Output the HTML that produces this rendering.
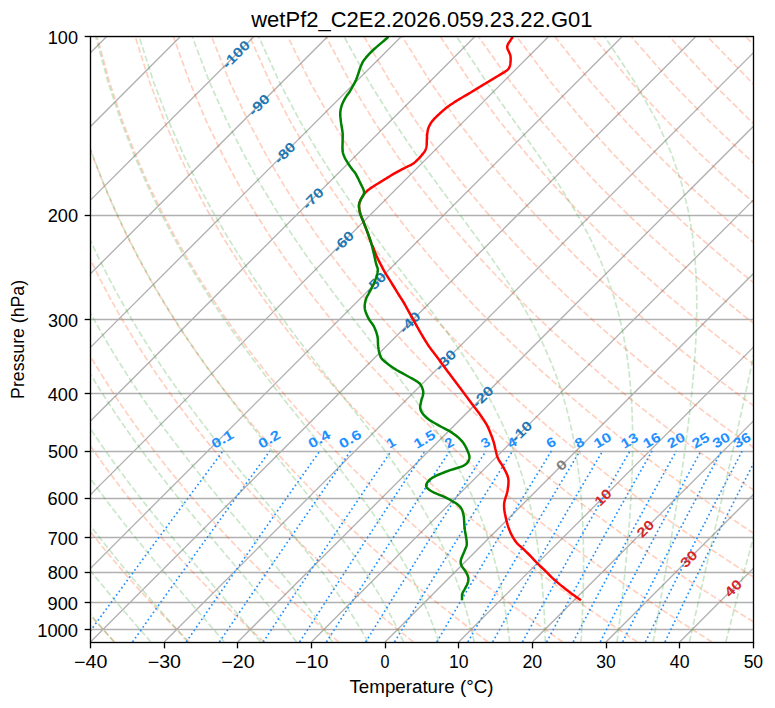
<!DOCTYPE html><html><head><meta charset="utf-8"><style>html,body{margin:0;padding:0;background:#fff;}svg{display:block;}text{font-family:"Liberation Sans",sans-serif;}</style></head><body><svg width="775" height="708" viewBox="0 0 775 708"><rect x="0" y="0" width="775" height="708" fill="#fff"/><defs><clipPath id="ax"><rect x="90.5" y="36.5" width="663" height="606"/></clipPath></defs><g clip-path="url(#ax)"><g stroke="#b0b0b0" stroke-width="1.33"><line x1="90" y1="36.5" x2="754" y2="36.5"/><line x1="90" y1="215.5" x2="754" y2="215.5"/><line x1="90" y1="319.5" x2="754" y2="319.5"/><line x1="90" y1="393.5" x2="754" y2="393.5"/><line x1="90" y1="451.5" x2="754" y2="451.5"/><line x1="90" y1="498.5" x2="754" y2="498.5"/><line x1="90" y1="537.5" x2="754" y2="537.5"/><line x1="90" y1="572.5" x2="754" y2="572.5"/><line x1="90" y1="602.5" x2="754" y2="602.5"/><line x1="90" y1="629.5" x2="754" y2="629.5"/><line x1="-719.59" y1="641.96" x2="-114.19" y2="36.56"/><line x1="-645.94" y1="641.96" x2="-40.54" y2="36.56"/><line x1="-572.3" y1="641.96" x2="33.1" y2="36.56"/><line x1="-498.66" y1="641.96" x2="106.74" y2="36.56"/><line x1="-425.01" y1="641.96" x2="180.39" y2="36.56"/><line x1="-351.37" y1="641.96" x2="254.03" y2="36.56"/><line x1="-277.72" y1="641.96" x2="327.68" y2="36.56"/><line x1="-204.08" y1="641.96" x2="401.32" y2="36.56"/><line x1="-130.43" y1="641.96" x2="474.97" y2="36.56"/><line x1="-56.79" y1="641.96" x2="548.61" y2="36.56"/><line x1="16.86" y1="641.96" x2="622.26" y2="36.56"/><line x1="90.5" y1="641.96" x2="695.9" y2="36.56"/><line x1="164.14" y1="641.96" x2="769.54" y2="36.56"/><line x1="237.79" y1="641.96" x2="843.19" y2="36.56"/><line x1="311.43" y1="641.96" x2="916.83" y2="36.56"/><line x1="385.08" y1="641.96" x2="990.48" y2="36.56"/><line x1="458.72" y1="641.96" x2="1064.12" y2="36.56"/><line x1="532.37" y1="641.96" x2="1137.77" y2="36.56"/><line x1="606.01" y1="641.96" x2="1211.41" y2="36.56"/><line x1="679.66" y1="641.96" x2="1285.06" y2="36.56"/><line x1="753.3" y1="641.96" x2="1358.7" y2="36.56"/></g><g fill="none" stroke="#ff4500" stroke-opacity="0.25" stroke-width="1.67" stroke-dasharray="6.17 2.67"><polyline points="114.6,641.96 110.15,637.16 105.67,632.27 101.16,627.29 96.6,622.21 92.02,617.02 87.39,611.73 82.73,606.33 78.03,600.81 73.29,595.17 68.52,589.4 63.7,583.51 58.84,577.47 53.94,571.29 49,564.96 44.02,558.47 38.99,551.8 33.92,544.97 28.81,537.94 23.65,530.72 18.44,523.29 13.19,515.64 7.89,507.76 2.54,499.63 -2.85,491.23 -8.29,482.54 -13.78,473.56 -19.31,464.25 -24.9,454.59 -30.52,444.55 -36.19,434.11 -41.91,423.23 -47.66,411.86 -53.45,399.97 -59.27,387.51 -65.12,374.41 -70.98,360.6 -76.85,346.02 -82.72,330.56 -88.56,314.11 -94.36,296.54 -100.08,277.68 -105.68,257.33 -111.1,235.23 -116.28,211.05 -121.09,184.37 -125.37,154.6 -128.88,120.93 -131.23,82.19 -131.79,36.56"/><polyline points="189.28,641.96 184.44,637.16 179.55,632.27 174.63,627.29 169.66,622.21 164.66,617.02 159.61,611.73 154.51,606.33 149.38,600.81 144.19,595.17 138.96,589.4 133.69,583.51 128.36,577.47 122.99,571.29 117.56,564.96 112.09,558.47 106.56,551.8 100.98,544.97 95.34,537.94 89.65,530.72 83.91,523.29 78.1,515.64 72.23,507.76 66.31,499.63 60.33,491.23 54.28,482.54 48.17,473.56 42,464.25 35.76,454.59 29.46,444.55 23.1,434.11 16.68,423.23 10.19,411.86 3.64,399.97 -2.96,387.51 -9.62,374.41 -16.33,360.6 -23.08,346.02 -29.86,330.56 -36.66,314.11 -43.46,296.54 -50.23,277.68 -56.95,257.33 -63.55,235.23 -69.98,211.05 -76.14,184.37 -81.88,154.6 -86.99,120.93 -91.11,82.19 -93.65,36.56"/><polyline points="263.96,641.96 258.72,637.16 253.43,632.27 248.1,627.29 242.72,622.21 237.3,617.02 231.82,611.73 226.3,606.33 220.72,600.81 215.09,595.17 209.41,589.4 203.68,583.51 197.88,577.47 192.03,571.29 186.13,564.96 180.16,558.47 174.13,551.8 168.04,544.97 161.88,537.94 155.66,530.72 149.37,523.29 143.01,515.64 136.58,507.76 130.08,499.63 123.5,491.23 116.85,482.54 110.12,473.56 103.31,464.25 96.42,454.59 89.45,444.55 82.4,434.11 75.26,423.23 68.04,411.86 60.73,399.97 53.34,387.51 45.87,374.41 38.32,360.6 30.69,346.02 23,330.56 15.24,314.11 7.44,296.54 -0.39,277.68 -8.21,257.33 -16,235.23 -23.69,211.05 -31.2,184.37 -38.4,154.6 -45.1,120.93 -50.98,82.19 -55.51,36.56"/><polyline points="338.64,641.96 333,637.16 327.31,632.27 321.57,627.29 315.78,622.21 309.94,617.02 304.04,611.73 298.08,606.33 292.06,600.81 285.99,595.17 279.86,589.4 273.66,583.51 267.4,577.47 261.08,571.29 254.69,564.96 248.23,558.47 241.7,551.8 235.1,544.97 228.42,537.94 221.67,530.72 214.83,523.29 207.92,515.64 200.93,507.76 193.84,499.63 186.68,491.23 179.42,482.54 172.07,473.56 164.62,464.25 157.08,454.59 149.44,444.55 141.69,434.11 133.84,423.23 125.89,411.86 117.82,399.97 109.65,387.51 101.36,374.41 92.97,360.6 84.47,346.02 75.86,330.56 67.14,314.11 58.34,296.54 49.46,277.68 40.52,257.33 31.55,235.23 22.6,211.05 13.74,184.37 5.08,154.6 -3.21,120.93 -10.86,82.19 -17.36,36.56"/><polyline points="413.32,641.96 407.28,637.16 401.19,632.27 395.04,627.29 388.84,622.21 382.58,617.02 376.25,611.73 369.86,606.33 363.41,600.81 356.89,595.17 350.31,589.4 343.65,583.51 336.92,577.47 330.13,571.29 323.25,564.96 316.3,558.47 309.27,551.8 302.15,544.97 294.96,537.94 287.67,530.72 280.3,523.29 272.83,515.64 265.27,507.76 257.61,499.63 249.85,491.23 241.99,482.54 234.02,473.56 225.93,464.25 217.74,454.59 209.42,444.55 200.99,434.11 192.43,423.23 183.74,411.86 174.91,399.97 165.96,387.51 156.86,374.41 147.62,360.6 138.24,346.02 128.71,330.56 119.05,314.11 109.24,296.54 99.31,277.68 89.25,257.33 79.1,235.23 68.9,211.05 58.69,184.37 48.56,154.6 38.67,120.93 29.27,82.19 20.78,36.56"/><polyline points="487.99,641.96 481.56,637.16 475.07,632.27 468.52,627.29 461.9,622.21 455.21,617.02 448.46,611.73 441.64,606.33 434.75,600.81 427.79,595.17 420.75,589.4 413.64,583.51 406.45,577.47 399.17,571.29 391.81,564.96 384.37,558.47 376.84,551.8 369.21,544.97 361.49,537.94 353.68,530.72 345.76,523.29 337.74,515.64 329.62,507.76 321.38,499.63 313.03,491.23 304.56,482.54 295.97,473.56 287.25,464.25 278.4,454.59 269.41,444.55 260.28,434.11 251.01,423.23 241.59,411.86 232,399.97 222.26,387.51 212.35,374.41 202.27,360.6 192.01,346.02 181.57,330.56 170.95,314.11 160.14,296.54 149.15,277.68 137.99,257.33 126.66,235.23 115.19,211.05 103.63,184.37 92.04,154.6 80.56,120.93 69.39,82.19 58.93,36.56"/><polyline points="562.67,641.96 555.84,637.16 548.95,632.27 541.99,627.29 534.96,622.21 527.85,617.02 520.68,611.73 513.43,606.33 506.1,600.81 498.69,595.17 491.2,589.4 483.63,583.51 475.97,577.47 468.22,571.29 460.37,564.96 452.44,558.47 444.4,551.8 436.27,544.97 428.03,537.94 419.68,530.72 411.23,523.29 402.65,515.64 393.96,507.76 385.15,499.63 376.2,491.23 367.13,482.54 357.91,473.56 348.56,464.25 339.05,454.59 329.4,444.55 319.58,434.11 309.59,423.23 299.43,411.86 289.1,399.97 278.57,387.51 267.85,374.41 256.92,360.6 245.79,346.02 234.43,330.56 222.85,314.11 211.04,296.54 199,277.68 186.72,257.33 174.21,235.23 161.48,211.05 148.57,184.37 135.53,154.6 122.45,120.93 109.52,82.19 97.07,36.56"/><polyline points="637.35,641.96 630.13,637.16 622.83,632.27 615.46,627.29 608.02,622.21 600.49,617.02 592.89,611.73 585.21,606.33 577.44,600.81 569.59,595.17 561.65,589.4 553.61,583.51 545.49,577.47 537.26,571.29 528.94,564.96 520.51,558.47 511.97,551.8 503.33,544.97 494.57,537.94 485.69,530.72 476.69,523.29 467.56,515.64 458.31,507.76 448.91,499.63 439.38,491.23 429.7,482.54 419.86,473.56 409.87,464.25 399.71,454.59 389.38,444.55 378.87,434.11 368.18,423.23 357.28,411.86 346.19,399.97 334.88,387.51 323.34,374.41 311.57,360.6 299.56,346.02 287.29,330.56 274.75,314.11 261.94,296.54 248.84,277.68 235.45,257.33 221.76,235.23 207.78,211.05 193.51,184.37 179.01,154.6 164.34,120.93 149.64,82.19 135.21,36.56"/><polyline points="712.03,641.96 704.41,637.16 696.71,632.27 688.93,627.29 681.08,622.21 673.13,617.02 665.11,611.73 656.99,606.33 648.79,600.81 640.49,595.17 632.09,589.4 623.6,583.51 615.01,577.47 606.31,571.29 597.5,564.96 588.58,558.47 579.54,551.8 570.38,544.97 561.1,537.94 551.69,530.72 542.15,523.29 532.47,515.64 522.65,507.76 512.68,499.63 502.55,491.23 492.27,482.54 481.81,473.56 471.18,464.25 460.37,454.59 449.37,444.55 438.17,434.11 426.76,423.23 415.13,411.86 403.28,399.97 391.18,387.51 378.84,374.41 366.22,360.6 353.33,346.02 340.15,330.56 326.66,314.11 312.84,296.54 298.69,277.68 284.18,257.33 269.31,235.23 254.07,211.05 238.46,184.37 222.49,154.6 206.22,120.93 189.77,82.19 173.36,36.56"/><polyline points="776,635.54 770.59,632.27 762.41,627.29 754.13,622.21 745.77,617.02 737.32,611.73 728.78,606.33 720.13,600.81 711.39,595.17 702.54,589.4 693.59,583.51 684.53,577.47 675.35,571.29 666.06,564.96 656.65,558.47 647.11,551.8 637.44,544.97 627.64,537.94 617.7,530.72 607.62,523.29 597.38,515.64 587,507.76 576.45,499.63 565.73,491.23 554.84,482.54 543.76,473.56 532.5,464.25 521.03,454.59 509.36,444.55 497.47,434.11 485.34,423.23 472.98,411.86 460.37,399.97 447.49,387.51 434.33,374.41 420.87,360.6 407.11,346.02 393.01,330.56 378.56,314.11 363.74,296.54 348.54,277.68 332.92,257.33 316.87,235.23 300.36,211.05 283.4,184.37 265.97,154.6 248.11,120.93 229.89,82.19 211.5,36.56"/><polyline points="776,591.27 772.99,589.4 763.58,583.51 754.05,577.47 744.4,571.29 734.62,564.96 724.72,558.47 714.68,551.8 704.5,544.97 694.18,537.94 683.71,530.72 673.08,523.29 662.29,515.64 651.34,507.76 640.21,499.63 628.9,491.23 617.41,482.54 605.71,473.56 593.81,464.25 581.69,454.59 569.34,444.55 556.76,434.11 543.93,423.23 530.83,411.86 517.46,399.97 503.8,387.51 489.82,374.41 475.52,360.6 460.88,346.02 445.87,330.56 430.46,314.11 414.64,296.54 398.38,277.68 381.65,257.33 364.42,235.23 346.66,211.05 328.34,184.37 309.46,154.6 290,120.93 270.02,82.19 249.65,36.56"/><polyline points="776,547.81 771.56,544.97 760.71,537.94 749.71,530.72 738.55,523.29 727.21,515.64 715.69,507.76 703.98,499.63 692.08,491.23 679.98,482.54 667.66,473.56 655.12,464.25 642.35,454.59 629.33,444.55 616.06,434.11 602.51,423.23 588.68,411.86 574.55,399.97 560.1,387.51 545.32,374.41 530.17,360.6 514.65,346.02 498.72,330.56 482.36,314.11 465.54,296.54 448.23,277.68 430.38,257.33 411.97,235.23 392.95,211.05 373.29,184.37 352.94,154.6 331.89,120.93 310.14,82.19 287.79,36.56"/><polyline points="776,505.09 767.75,499.63 755.26,491.23 742.55,482.54 729.61,473.56 716.43,464.25 703.01,454.59 689.32,444.55 675.35,434.11 661.1,423.23 646.53,411.86 631.64,399.97 616.41,387.51 600.81,374.41 584.83,360.6 568.42,346.02 551.58,330.56 534.27,314.11 516.44,296.54 498.07,277.68 479.11,257.33 459.52,235.23 439.24,211.05 418.23,184.37 396.42,154.6 373.78,120.93 350.27,82.19 325.93,36.56"/><polyline points="776,463.05 763.66,454.59 749.3,444.55 734.65,434.11 719.68,423.23 704.38,411.86 688.73,399.97 672.72,387.51 656.31,374.41 639.48,360.6 622.2,346.02 604.44,330.56 586.17,314.11 567.34,296.54 547.92,277.68 527.85,257.33 507.07,235.23 485.54,211.05 463.17,184.37 439.9,154.6 415.66,120.93 390.39,82.19 364.08,36.56"/><polyline points="776,421.62 762.23,411.86 745.82,399.97 729.02,387.51 711.8,374.41 694.13,360.6 675.97,346.02 657.3,330.56 638.07,314.11 618.24,296.54 597.76,277.68 576.58,257.33 554.63,235.23 531.83,211.05 508.11,184.37 483.39,154.6 457.55,120.93 430.52,82.19 402.22,36.56"/><polyline points="776,380.73 767.29,374.41 748.78,360.6 729.74,346.02 710.16,330.56 689.97,314.11 669.14,296.54 647.61,277.68 625.31,257.33 602.18,235.23 578.13,211.05 553.06,184.37 526.87,154.6 499.44,120.93 470.64,82.19 440.36,36.56"/><polyline points="776,340.35 763.02,330.56 741.88,314.11 720.04,296.54 697.46,277.68 674.05,257.33 649.73,235.23 624.42,211.05 598,184.37 570.35,154.6 541.33,120.93 510.77,82.19 478.51,36.56"/><polyline points="776,300.43 770.94,296.54 747.3,277.68 722.78,257.33 697.28,235.23 670.71,211.05 642.94,184.37 613.83,154.6 583.21,120.93 550.89,82.19 516.65,36.56"/><polyline points="776,260.89 771.51,257.33 744.84,235.23 717.01,211.05 687.89,184.37 657.32,154.6 625.1,120.93 591.02,82.19 554.8,36.56"/><polyline points="776,221.61 763.3,211.05 732.83,184.37 700.8,154.6 666.99,120.93 631.14,82.19 592.94,36.56"/><polyline points="776,182.8 744.28,154.6 708.88,120.93 671.27,82.19 631.08,36.56"/><polyline points="776,143.9 750.76,120.93 711.39,82.19 669.23,36.56"/><polyline points="776,105.25 751.52,82.19 707.37,36.56"/><polyline points="776,66.72 745.52,36.56"/><polyline points=""/><polyline points=""/><polyline points=""/><polyline points=""/><polyline points=""/><polyline points=""/></g><g fill="none" stroke="#2ca02c" stroke-opacity="0.25" stroke-width="1.67" stroke-dasharray="6.17 2.67"><polyline points="113.94,641.96 109.77,637.16 105.54,632.27 101.25,627.29 96.91,622.21 92.51,617.02 88.06,611.73 83.56,606.33 79,600.81 74.39,595.17 69.73,589.4 65.01,583.51 60.24,577.47 55.41,571.29 50.54,564.96 45.61,558.47 40.63,551.8 35.59,544.97 30.51,537.94 25.37,530.72 20.18,523.29 14.94,515.64 9.65,507.76 4.31,499.63 -1.09,491.23 -6.53,482.54 -12.03,473.56 -17.57,464.25 -23.17,454.59 -28.81,444.55 -34.5,434.11 -40.23,423.23 -46,411.86 -51.81,399.97 -57.65,387.51 -63.52,374.41 -69.41,360.6 -75.3,346.02 -81.2,330.56 -87.07,314.11 -92.89,296.54 -98.64,277.68 -104.27,257.33 -109.73,235.23 -114.94,211.05 -119.79,184.37 -124.11,154.6 -127.67,120.93 -130.08,82.19 -130.69,36.56"/><polyline points="150.9,641.96 146.68,637.16 142.4,632.27 138.04,627.29 133.62,622.21 129.14,617.02 124.58,611.73 119.96,606.33 115.28,600.81 110.53,595.17 105.71,589.4 100.83,583.51 95.88,577.47 90.88,571.29 85.8,564.96 80.67,558.47 75.47,551.8 70.21,544.97 64.89,537.94 59.51,530.72 54.07,523.29 48.56,515.64 42.99,507.76 37.37,499.63 31.68,491.23 25.93,482.54 20.12,473.56 14.25,464.25 8.32,454.59 2.34,444.55 -3.7,434.11 -9.8,423.23 -15.95,411.86 -22.16,399.97 -28.4,387.51 -34.69,374.41 -41.02,360.6 -47.37,346.02 -53.74,330.56 -60.11,314.11 -66.45,296.54 -72.75,277.68 -78.96,257.33 -85.03,235.23 -90.9,211.05 -96.44,184.37 -101.53,154.6 -105.91,120.93 -109.23,82.19 -110.88,36.56"/><polyline points="187.68,641.96 183.49,637.16 179.22,632.27 174.86,627.29 170.42,622.21 165.9,617.02 161.3,611.73 156.62,606.33 151.85,600.81 147.01,595.17 142.08,589.4 137.08,583.51 131.99,577.47 126.83,571.29 121.6,564.96 116.28,558.47 110.89,551.8 105.43,544.97 99.89,537.94 94.27,530.72 88.58,523.29 82.82,515.64 76.99,507.76 71.08,499.63 65.11,491.23 59.06,482.54 52.93,473.56 46.74,464.25 40.48,454.59 34.15,444.55 27.74,434.11 21.27,423.23 14.74,411.86 8.13,399.97 1.47,387.51 -5.25,374.41 -12.02,360.6 -18.84,346.02 -25.69,330.56 -32.56,314.11 -39.44,296.54 -46.3,277.68 -53.1,257.33 -59.8,235.23 -66.33,211.05 -72.59,184.37 -78.45,154.6 -83.68,120.93 -87.94,82.19 -90.64,36.56"/><polyline points="224.25,641.96 220.17,637.16 215.99,632.27 211.71,627.29 207.34,622.21 202.86,617.02 198.28,611.73 193.61,606.33 188.83,600.81 183.96,595.17 178.98,589.4 173.91,583.51 168.75,577.47 163.48,571.29 158.13,564.96 152.67,558.47 147.13,551.8 141.49,544.97 135.76,537.94 129.94,530.72 124.03,523.29 118.03,515.64 111.94,507.76 105.77,499.63 99.51,491.23 93.16,482.54 86.73,473.56 80.21,464.25 73.61,454.59 66.93,444.55 60.16,434.11 53.31,423.23 46.38,411.86 39.37,399.97 32.28,387.51 25.12,374.41 17.89,360.6 10.59,346.02 3.24,330.56 -4.15,314.11 -11.58,296.54 -19.01,277.68 -26.42,257.33 -33.77,235.23 -40.99,211.05 -47.99,184.37 -54.65,154.6 -60.75,120.93 -65.98,82.19 -69.76,36.56"/><polyline points="260.58,641.96 256.7,637.16 252.71,632.27 248.61,627.29 244.39,622.21 240.05,617.02 235.6,611.73 231.02,606.33 226.33,600.81 221.51,595.17 216.58,589.4 211.53,583.51 206.35,577.47 201.06,571.29 195.65,564.96 190.12,558.47 184.48,551.8 178.72,544.97 172.85,537.94 166.87,530.72 160.77,523.29 154.56,515.64 148.25,507.76 141.83,499.63 135.3,491.23 128.67,482.54 121.94,473.56 115.1,464.25 108.17,454.59 101.13,444.55 93.99,434.11 86.75,423.23 79.41,411.86 71.98,399.97 64.46,387.51 56.84,374.41 49.13,360.6 41.33,346.02 33.46,330.56 25.52,314.11 17.52,296.54 9.49,277.68 1.44,257.33 -6.58,235.23 -14.52,211.05 -22.3,184.37 -29.79,154.6 -36.81,120.93 -43.04,82.19 -47.95,36.56"/><polyline points="296.64,641.96 293.06,637.16 289.37,632.27 285.55,627.29 281.6,622.21 277.51,617.02 273.3,611.73 268.94,606.33 264.44,600.81 259.81,595.17 255.03,589.4 250.1,583.51 245.03,577.47 239.82,571.29 234.46,564.96 228.95,558.47 223.3,551.8 217.51,544.97 211.57,537.94 205.49,530.72 199.27,523.29 192.92,515.64 186.42,507.76 179.8,499.63 173.04,491.23 166.15,482.54 159.13,473.56 151.99,464.25 144.72,454.59 137.33,444.55 129.82,434.11 122.18,423.23 114.43,411.86 106.56,399.97 98.58,387.51 90.48,374.41 82.26,360.6 73.95,346.02 65.52,330.56 57,314.11 48.4,296.54 39.73,277.68 31,257.33 22.27,235.23 13.56,211.05 4.97,184.37 -3.41,154.6 -11.39,120.93 -18.69,82.19 -24.81,36.56"/><polyline points="332.44,641.96 329.26,637.16 325.96,632.27 322.53,627.29 318.97,622.21 315.26,617.02 311.4,611.73 307.4,606.33 303.24,600.81 298.92,595.17 294.43,589.4 289.78,583.51 284.96,577.47 279.97,571.29 274.8,564.96 269.46,558.47 263.94,551.8 258.23,544.97 252.35,537.94 246.3,530.72 240.06,523.29 233.65,515.64 227.07,507.76 220.31,499.63 213.38,491.23 206.29,482.54 199.04,473.56 191.62,464.25 184.05,454.59 176.32,444.55 168.44,434.11 160.41,423.23 152.23,411.86 143.91,399.97 135.44,387.51 126.83,374.41 118.09,360.6 109.21,346.02 100.19,330.56 91.05,314.11 81.8,296.54 72.43,277.68 62.98,257.33 53.47,235.23 43.94,211.05 34.46,184.37 25.13,154.6 16.1,120.93 7.64,82.19 0.22,36.56"/><polyline points="368.02,641.96 365.32,637.16 362.51,632.27 359.56,627.29 356.48,622.21 353.26,617.02 349.89,611.73 346.37,606.33 342.69,600.81 338.84,595.17 334.81,589.4 330.6,583.51 326.21,577.47 321.62,571.29 316.83,564.96 311.83,558.47 306.63,551.8 301.21,544.97 295.57,537.94 289.71,530.72 283.63,523.29 277.33,515.64 270.8,507.76 264.06,499.63 257.09,491.23 249.91,482.54 242.51,473.56 234.9,464.25 227.09,454.59 219.07,444.55 210.86,434.11 202.45,423.23 193.85,411.86 185.07,399.97 176.11,387.51 166.97,374.41 157.65,360.6 148.16,346.02 138.51,330.56 128.69,314.11 118.72,296.54 108.59,277.68 98.34,257.33 87.98,235.23 77.53,211.05 67.07,184.37 56.68,154.6 46.49,120.93 36.76,82.19 27.9,36.56"/><polyline points="403.45,641.96 401.28,637.16 399.01,632.27 396.62,627.29 394.11,622.21 391.46,617.02 388.68,611.73 385.76,606.33 382.68,600.81 379.43,595.17 376.02,589.4 372.42,583.51 368.63,577.47 364.64,571.29 360.44,564.96 356.02,558.47 351.37,551.8 346.47,544.97 341.33,537.94 335.93,530.72 330.26,523.29 324.33,515.64 318.11,507.76 311.62,499.63 304.84,491.23 297.78,482.54 290.43,473.56 282.8,464.25 274.9,454.59 266.72,444.55 258.27,434.11 249.57,423.23 240.61,411.86 231.4,399.97 221.95,387.51 212.26,374.41 202.35,360.6 192.21,346.02 181.85,330.56 171.29,314.11 160.51,296.54 149.54,277.68 138.38,257.33 127.05,235.23 115.58,211.05 104.01,184.37 92.41,154.6 80.92,120.93 69.73,82.19 59.25,36.56"/><polyline points="438.82,641.96 437.2,637.16 435.49,632.27 433.69,627.29 431.79,622.21 429.77,617.02 427.64,611.73 425.38,606.33 422.99,600.81 420.46,595.17 417.77,589.4 414.92,583.51 411.89,577.47 408.68,571.29 405.26,564.96 401.63,558.47 397.77,551.8 393.67,544.97 389.31,537.94 384.67,530.72 379.75,523.29 374.52,515.64 368.97,507.76 363.1,499.63 356.88,491.23 350.3,482.54 343.36,473.56 336.06,464.25 328.38,454.59 320.33,444.55 311.9,434.11 303.11,423.23 293.96,411.86 284.46,399.97 274.62,387.51 264.44,374.41 253.95,360.6 243.15,346.02 232.06,330.56 220.67,314.11 209.01,296.54 197.07,277.68 184.88,257.33 172.44,235.23 159.77,211.05 146.92,184.37 133.93,154.6 120.91,120.93 108.04,82.19 95.67,36.56"/><polyline points="474.21,641.96 473.13,637.16 471.98,632.27 470.76,627.29 469.47,622.21 468.09,617.02 466.62,611.73 465.05,606.33 463.38,600.81 461.6,595.17 459.69,589.4 457.65,583.51 455.47,577.47 453.13,571.29 450.63,564.96 447.94,558.47 445.05,551.8 441.95,544.97 438.61,537.94 435.03,530.72 431.16,523.29 427.01,515.64 422.53,507.76 417.71,499.63 412.53,491.23 406.95,482.54 400.95,473.56 394.52,464.25 387.62,454.59 380.25,444.55 372.38,434.11 364,423.23 355.11,411.86 345.72,399.97 335.81,387.51 325.42,374.41 314.54,360.6 303.2,346.02 291.42,330.56 279.21,314.11 266.59,296.54 253.59,277.68 240.22,257.33 226.49,235.23 212.42,211.05 198.05,184.37 183.41,154.6 168.58,120.93 153.7,82.19 139.08,36.56"/><polyline points="509.69,641.96 509.11,637.16 508.49,632.27 507.82,627.29 507.1,622.21 506.32,617.02 505.48,611.73 504.58,606.33 503.6,600.81 502.54,595.17 501.4,589.4 500.17,583.51 498.83,577.47 497.38,571.29 495.81,564.96 494.1,558.47 492.25,551.8 490.23,544.97 488.04,537.94 485.64,530.72 483.03,523.29 480.18,515.64 477.06,507.76 473.65,499.63 469.92,491.23 465.82,482.54 461.33,473.56 456.41,464.25 451.01,454.59 445.09,444.55 438.61,434.11 431.52,423.23 423.78,411.86 415.36,399.97 406.23,387.51 396.37,374.41 385.77,360.6 374.44,346.02 362.38,330.56 349.64,314.11 336.23,296.54 322.2,277.68 307.57,257.33 292.4,235.23 276.7,211.05 260.51,184.37 243.87,154.6 226.84,120.93 209.52,82.19 192.14,36.56"/><polyline points="545.3,641.96 545.18,637.16 545.03,632.27 544.85,627.29 544.65,622.21 544.41,617.02 544.14,611.73 543.83,606.33 543.47,600.81 543.08,595.17 542.63,589.4 542.13,583.51 541.56,577.47 540.93,571.29 540.22,564.96 539.43,558.47 538.55,551.8 537.57,544.97 536.47,537.94 535.24,530.72 533.87,523.29 532.34,515.64 530.63,507.76 528.72,499.63 526.57,491.23 524.17,482.54 521.48,473.56 518.45,464.25 515.05,454.59 511.22,444.55 506.9,434.11 502.02,423.23 496.52,411.86 490.32,399.97 483.33,387.51 475.46,374.41 466.63,360.6 456.76,346.02 445.8,330.56 433.7,314.11 420.46,296.54 406.09,277.68 390.64,257.33 374.19,235.23 356.81,211.05 338.58,184.37 319.56,154.6 299.82,120.93 279.46,82.19 258.64,36.56"/><polyline points="581.09,641.96 581.35,637.16 581.61,632.27 581.85,627.29 582.09,622.21 582.32,617.02 582.53,611.73 582.73,606.33 582.92,600.81 583.08,595.17 583.23,589.4 583.35,583.51 583.45,577.47 583.51,571.29 583.55,564.96 583.54,558.47 583.49,551.8 583.39,544.97 583.24,537.94 583.02,530.72 582.73,523.29 582.36,515.64 581.9,507.76 581.32,499.63 580.63,491.23 579.79,482.54 578.78,473.56 577.59,464.25 576.17,454.59 574.49,444.55 572.5,434.11 570.16,423.23 567.4,411.86 564.14,399.97 560.29,387.51 555.74,374.41 550.36,360.6 544,346.02 536.47,330.56 527.6,314.11 517.18,296.54 505.04,277.68 491.02,257.33 475.06,235.23 457.18,211.05 437.48,184.37 416.14,154.6 393.34,120.93 369.26,82.19 344.08,36.56"/><polyline points="617.05,641.96 617.63,637.16 618.23,632.27 618.83,627.29 619.43,622.21 620.04,617.02 620.66,611.73 621.28,606.33 621.9,600.81 622.53,595.17 623.16,589.4 623.79,583.51 624.42,577.47 625.05,571.29 625.68,564.96 626.31,558.47 626.93,551.8 627.54,544.97 628.15,537.94 628.74,530.72 629.31,523.29 629.87,515.64 630.39,507.76 630.89,499.63 631.34,491.23 631.75,482.54 632.1,473.56 632.38,464.25 632.58,454.59 632.67,444.55 632.64,434.11 632.45,423.23 632.08,411.86 631.47,399.97 630.58,387.51 629.34,374.41 627.66,360.6 625.43,346.02 622.5,330.56 618.7,314.11 613.76,296.54 607.39,277.68 599.18,257.33 588.66,235.23 575.29,211.05 558.57,184.37 538.18,154.6 514.12,120.93 486.72,82.19 456.51,36.56"/><polyline points="653.17,641.96 654.02,637.16 654.89,632.27 655.77,627.29 656.67,622.21 657.59,617.02 658.52,611.73 659.47,606.33 660.45,600.81 661.44,595.17 662.45,589.4 663.48,583.51 664.53,577.47 665.6,571.29 666.7,564.96 667.81,558.47 668.95,551.8 670.11,544.97 671.29,537.94 672.5,530.72 673.72,523.29 674.97,515.64 676.24,507.76 677.54,499.63 678.85,491.23 680.18,482.54 681.53,473.56 682.89,464.25 684.26,454.59 685.64,444.55 687.02,434.11 688.39,423.23 689.74,411.86 691.06,399.97 692.33,387.51 693.52,374.41 694.61,360.6 695.55,346.02 696.28,330.56 696.72,314.11 696.76,296.54 696.23,277.68 694.91,257.33 692.45,235.23 688.36,211.05 681.87,184.37 671.86,154.6 656.78,120.93 634.83,82.19 604.72,36.56"/><polyline points="689.44,641.96 690.5,637.16 691.58,632.27 692.69,627.29 693.82,622.21 694.97,617.02 696.15,611.73 697.36,606.33 698.61,600.81 699.88,595.17 701.18,589.4 702.51,583.51 703.88,577.47 705.29,571.29 706.73,564.96 708.21,558.47 709.74,551.8 711.3,544.97 712.91,537.94 714.56,530.72 716.27,523.29 718.02,515.64 719.83,507.76 721.7,499.63 723.62,491.23 725.61,482.54 727.66,473.56 729.78,464.25 731.96,454.59 734.23,444.55 736.57,434.11 739,423.23 741.51,411.86 744.1,399.97 746.79,387.51 749.57,374.41 752.45,360.6 755.42,346.02 758.47,330.56 761.6,314.11 764.8,296.54 768.02,277.68 771.22,257.33 774.32,235.23 777.17,211.05 779.54,184.37 780.99,154.6 780.73,120.93 777.26,82.19 767.55,36.56"/><polyline points="725.85,641.96 727.06,637.16 728.31,632.27 729.58,627.29 730.88,622.21 732.22,617.02 733.59,611.73 734.99,606.33 736.43,600.81 737.91,595.17 739.43,589.4 740.99,583.51 742.59,577.47 744.24,571.29 745.94,564.96 747.69,558.47 749.49,551.8 751.35,544.97 753.27,537.94 755.24,530.72 757.29,523.29 759.4,515.64 761.59,507.76 763.86,499.63 766.21,491.23 768.65,482.54 771.18,473.56 773.81,464.25 776.56,454.59 779.42,444.55 782.4,434.11 785.52,423.23 788.79,411.86 792.21,399.97 795.81,387.51 799.59,374.41 803.58,360.6 807.79,346.02 812.25,330.56 816.98,314.11 822.01,296.54 827.37,277.68 833.1,257.33 839.24,235.23 845.83,211.05 852.9,184.37 860.48,154.6 868.54,120.93 876.92,82.19 885.14,36.56"/><polyline points="762.37,641.96 763.7,637.16 765.06,632.27 766.45,627.29 767.88,622.21 769.35,617.02 770.85,611.73 772.4,606.33 773.98,600.81 775.61,595.17 777.28,589.4 779,583.51 780.77,577.47 782.6,571.29 784.48,564.96 786.41,558.47 788.41,551.8 790.47,544.97 792.61,537.94 794.81,530.72 797.09,523.29 799.45,515.64 801.9,507.76 804.44,499.63 807.08,491.23 809.83,482.54 812.68,473.56 815.66,464.25 818.78,454.59 822.03,444.55 825.43,434.11 829,423.23 832.76,411.86 836.71,399.97 840.88,387.51 845.29,374.41 849.96,360.6 854.94,346.02 860.24,330.56 865.91,314.11 872.02,296.54 878.6,277.68 885.74,257.33 893.54,235.23 902.1,211.05 911.57,184.37 922.15,154.6 934.1,120.93 947.75,82.19 963.6,36.56"/></g><g fill="none" stroke="#1e90ff" stroke-width="1.67" stroke-dasharray="1.67 2.75"><polyline points="82.32,641.96 84.33,639.19 86.37,636.4 88.43,633.57 90.51,630.71 92.62,627.82 94.75,624.89 96.91,621.94 99.09,618.94 101.3,615.92 103.54,612.85 105.8,609.75 108.1,606.62 110.42,603.44 112.78,600.22 115.16,596.96 117.58,593.67 120.02,590.32 122.5,586.94 125.02,583.51 127.57,580.03 130.16,576.51 132.78,572.93 135.44,569.31 138.15,565.63 140.89,561.9 143.67,558.12 146.5,554.28 149.37,550.38 152.29,546.42 155.25,542.4 158.26,538.32 161.32,534.17 164.44,529.95 167.6,525.66 170.83,521.3 174.11,516.87 177.45,512.35 180.85,507.76 184.31,503.08 187.84,498.32 191.44,493.46 195.12,488.52 198.86,483.47 202.68,478.33 206.59,473.08 210.57,467.72 214.65,462.25 218.82,456.65 223.08,450.94"/><polyline points="132.54,641.96 134.5,639.19 136.48,636.4 138.49,633.57 140.52,630.71 142.58,627.82 144.65,624.89 146.76,621.94 148.89,618.94 151.04,615.92 153.22,612.85 155.43,609.75 157.67,606.62 159.93,603.44 162.23,600.22 164.55,596.96 166.91,593.67 169.3,590.32 171.72,586.94 174.17,583.51 176.66,580.03 179.18,576.51 181.74,572.93 184.34,569.31 186.97,565.63 189.65,561.9 192.36,558.12 195.12,554.28 197.92,550.38 200.77,546.42 203.66,542.4 206.6,538.32 209.59,534.17 212.63,529.95 215.72,525.66 218.87,521.3 222.07,516.87 225.34,512.35 228.66,507.76 232.04,503.08 235.49,498.32 239.01,493.46 242.59,488.52 246.25,483.47 249.99,478.33 253.8,473.08 257.7,467.72 261.68,462.25 265.75,456.65 269.91,450.94"/><polyline points="186.25,641.96 188.15,639.19 190.08,636.4 192.03,633.57 194,630.71 196,627.82 198.02,624.89 200.06,621.94 202.13,618.94 204.22,615.92 206.34,612.85 208.48,609.75 210.66,606.62 212.86,603.44 215.09,600.22 217.35,596.96 219.64,593.67 221.96,590.32 224.31,586.94 226.69,583.51 229.11,580.03 231.57,576.51 234.06,572.93 236.58,569.31 239.14,565.63 241.75,561.9 244.39,558.12 247.07,554.28 249.79,550.38 252.56,546.42 255.38,542.4 258.24,538.32 261.15,534.17 264.1,529.95 267.11,525.66 270.18,521.3 273.29,516.87 276.47,512.35 279.7,507.76 283,503.08 286.36,498.32 289.78,493.46 293.27,488.52 296.84,483.47 300.47,478.33 304.19,473.08 307.98,467.72 311.86,462.25 315.83,456.65 319.89,450.94"/><polyline points="219.43,641.96 221.3,639.19 223.19,636.4 225.1,633.57 227.04,630.71 228.99,627.82 230.97,624.89 232.98,621.94 235.01,618.94 237.06,615.92 239.14,612.85 241.25,609.75 243.38,606.62 245.54,603.44 247.73,600.22 249.95,596.96 252.19,593.67 254.47,590.32 256.78,586.94 259.12,583.51 261.5,580.03 263.91,576.51 266.35,572.93 268.83,569.31 271.35,565.63 273.9,561.9 276.5,558.12 279.13,554.28 281.81,550.38 284.53,546.42 287.29,542.4 290.1,538.32 292.96,534.17 295.86,529.95 298.82,525.66 301.83,521.3 304.89,516.87 308.01,512.35 311.19,507.76 314.43,503.08 317.73,498.32 321.1,493.46 324.53,488.52 328.03,483.47 331.61,478.33 335.26,473.08 338.99,467.72 342.81,462.25 346.71,456.65 350.7,450.94"/><polyline points="263.23,641.96 265.05,639.19 266.89,636.4 268.75,633.57 270.64,630.71 272.54,627.82 274.47,624.89 276.43,621.94 278.4,618.94 280.4,615.92 282.43,612.85 284.48,609.75 286.56,606.62 288.66,603.44 290.8,600.22 292.96,596.96 295.15,593.67 297.37,590.32 299.62,586.94 301.9,583.51 304.22,580.03 306.57,576.51 308.95,572.93 311.37,569.31 313.82,565.63 316.32,561.9 318.85,558.12 321.42,554.28 324.03,550.38 326.68,546.42 329.38,542.4 332.12,538.32 334.91,534.17 337.75,529.95 340.63,525.66 343.57,521.3 346.56,516.87 349.61,512.35 352.71,507.76 355.87,503.08 359.09,498.32 362.38,493.46 365.73,488.52 369.16,483.47 372.65,478.33 376.22,473.08 379.86,467.72 383.59,462.25 387.4,456.65 391.31,450.94"/><polyline points="299.68,641.96 301.46,639.19 303.26,636.4 305.08,633.57 306.92,630.71 308.78,627.82 310.67,624.89 312.58,621.94 314.51,618.94 316.47,615.92 318.45,612.85 320.45,609.75 322.49,606.62 324.54,603.44 326.63,600.22 328.74,596.96 330.89,593.67 333.06,590.32 335.26,586.94 337.49,583.51 339.76,580.03 342.05,576.51 344.39,572.93 346.75,569.31 349.15,565.63 351.59,561.9 354.07,558.12 356.58,554.28 359.14,550.38 361.74,546.42 364.38,542.4 367.06,538.32 369.79,534.17 372.57,529.95 375.39,525.66 378.27,521.3 381.2,516.87 384.18,512.35 387.22,507.76 390.31,503.08 393.47,498.32 396.69,493.46 399.98,488.52 403.33,483.47 406.75,478.33 410.25,473.08 413.82,467.72 417.48,462.25 421.21,456.65 425.04,450.94"/><polyline points="326.51,641.96 328.25,639.19 330.02,636.4 331.81,633.57 333.62,630.71 335.45,627.82 337.3,624.89 339.18,621.94 341.07,618.94 343,615.92 344.94,612.85 346.91,609.75 348.91,606.62 350.94,603.44 352.99,600.22 355.06,596.96 357.17,593.67 359.3,590.32 361.47,586.94 363.66,583.51 365.89,580.03 368.15,576.51 370.44,572.93 372.77,569.31 375.13,565.63 377.53,561.9 379.97,558.12 382.44,554.28 384.95,550.38 387.51,546.42 390.1,542.4 392.75,538.32 395.43,534.17 398.16,529.95 400.94,525.66 403.77,521.3 406.66,516.87 409.59,512.35 412.58,507.76 415.63,503.08 418.74,498.32 421.91,493.46 425.14,488.52 428.44,483.47 431.81,478.33 435.26,473.08 438.78,467.72 442.37,462.25 446.06,456.65 449.82,450.94"/><polyline points="365.72,641.96 367.43,639.19 369.15,636.4 370.89,633.57 372.65,630.71 374.43,627.82 376.23,624.89 378.06,621.94 379.91,618.94 381.78,615.92 383.68,612.85 385.6,609.75 387.54,606.62 389.51,603.44 391.51,600.22 393.53,596.96 395.59,593.67 397.67,590.32 399.78,586.94 401.92,583.51 404.09,580.03 406.29,576.51 408.52,572.93 410.79,569.31 413.09,565.63 415.43,561.9 417.81,558.12 420.22,554.28 422.67,550.38 425.16,546.42 427.7,542.4 430.27,538.32 432.89,534.17 435.56,529.95 438.27,525.66 441.04,521.3 443.85,516.87 446.71,512.35 449.63,507.76 452.61,503.08 455.64,498.32 458.74,493.46 461.9,488.52 465.12,483.47 468.41,478.33 471.78,473.08 475.21,467.72 478.73,462.25 482.33,456.65 486.01,450.94"/><polyline points="394.6,641.96 396.26,639.19 397.95,636.4 399.65,633.57 401.38,630.71 403.12,627.82 404.89,624.89 406.68,621.94 408.49,618.94 410.33,615.92 412.18,612.85 414.07,609.75 415.97,606.62 417.9,603.44 419.86,600.22 421.85,596.96 423.86,593.67 425.9,590.32 427.96,586.94 430.06,583.51 432.19,580.03 434.35,576.51 436.54,572.93 438.77,569.31 441.02,565.63 443.32,561.9 445.65,558.12 448.01,554.28 450.42,550.38 452.86,546.42 455.35,542.4 457.88,538.32 460.45,534.17 463.06,529.95 465.73,525.66 468.44,521.3 471.2,516.87 474.01,512.35 476.88,507.76 479.8,503.08 482.78,498.32 485.82,493.46 488.92,488.52 492.09,483.47 495.32,478.33 498.62,473.08 502,467.72 505.46,462.25 508.99,456.65 512.61,450.94"/><polyline points="436.82,641.96 438.44,639.19 440.07,636.4 441.72,633.57 443.39,630.71 445.08,627.82 446.8,624.89 448.53,621.94 450.29,618.94 452.06,615.92 453.87,612.85 455.69,609.75 457.54,606.62 459.41,603.44 461.31,600.22 463.23,596.96 465.19,593.67 467.16,590.32 469.17,586.94 471.21,583.51 473.27,580.03 475.37,576.51 477.49,572.93 479.65,569.31 481.85,565.63 484.07,561.9 486.33,558.12 488.63,554.28 490.97,550.38 493.34,546.42 495.76,542.4 498.21,538.32 500.71,534.17 503.25,529.95 505.84,525.66 508.48,521.3 511.16,516.87 513.89,512.35 516.68,507.76 519.52,503.08 522.42,498.32 525.37,493.46 528.39,488.52 531.47,483.47 534.62,478.33 537.83,473.08 541.12,467.72 544.48,462.25 547.92,456.65 551.44,450.94"/><polyline points="467.9,641.96 469.47,639.19 471.07,636.4 472.68,633.57 474.31,630.71 475.96,627.82 477.63,624.89 479.33,621.94 481.04,618.94 482.78,615.92 484.53,612.85 486.32,609.75 488.12,606.62 489.95,603.44 491.8,600.22 493.68,596.96 495.59,593.67 497.52,590.32 499.48,586.94 501.47,583.51 503.49,580.03 505.54,576.51 507.62,572.93 509.73,569.31 511.87,565.63 514.05,561.9 516.26,558.12 518.5,554.28 520.79,550.38 523.11,546.42 525.47,542.4 527.87,538.32 530.32,534.17 532.8,529.95 535.33,525.66 537.91,521.3 540.54,516.87 543.21,512.35 545.94,507.76 548.72,503.08 551.56,498.32 554.45,493.46 557.4,488.52 560.42,483.47 563.5,478.33 566.65,473.08 569.87,467.72 573.16,462.25 576.53,456.65 579.98,450.94"/><polyline points="492.66,641.96 494.2,639.19 495.76,636.4 497.34,633.57 498.94,630.71 500.56,627.82 502.2,624.89 503.85,621.94 505.53,618.94 507.24,615.92 508.96,612.85 510.71,609.75 512.48,606.62 514.27,603.44 516.09,600.22 517.93,596.96 519.8,593.67 521.7,590.32 523.62,586.94 525.57,583.51 527.55,580.03 529.56,576.51 531.6,572.93 533.67,569.31 535.77,565.63 537.91,561.9 540.08,558.12 542.28,554.28 544.53,550.38 546.81,546.42 549.12,542.4 551.48,538.32 553.88,534.17 556.32,529.95 558.81,525.66 561.34,521.3 563.92,516.87 566.55,512.35 569.23,507.76 571.96,503.08 574.74,498.32 577.59,493.46 580.49,488.52 583.45,483.47 586.48,478.33 589.58,473.08 592.74,467.72 595.98,462.25 599.29,456.65 602.68,450.94"/><polyline points="522.49,641.96 524,639.19 525.52,636.4 527.06,633.57 528.62,630.71 530.2,627.82 531.8,624.89 533.41,621.94 535.05,618.94 536.71,615.92 538.39,612.85 540.1,609.75 541.83,606.62 543.58,603.44 545.35,600.22 547.15,596.96 548.97,593.67 550.82,590.32 552.7,586.94 554.61,583.51 556.54,580.03 558.5,576.51 560.49,572.93 562.51,569.31 564.57,565.63 566.66,561.9 568.78,558.12 570.93,554.28 573.12,550.38 575.35,546.42 577.61,542.4 579.92,538.32 582.26,534.17 584.65,529.95 587.08,525.66 589.56,521.3 592.08,516.87 594.65,512.35 597.27,507.76 599.94,503.08 602.67,498.32 605.45,493.46 608.29,488.52 611.19,483.47 614.15,478.33 617.18,473.08 620.28,467.72 623.45,462.25 626.69,456.65 630.02,450.94"/><polyline points="546.66,641.96 548.14,639.19 549.63,636.4 551.13,633.57 552.66,630.71 554.21,627.82 555.77,624.89 557.35,621.94 558.96,618.94 560.59,615.92 562.23,612.85 563.9,609.75 565.59,606.62 567.31,603.44 569.05,600.22 570.81,596.96 572.6,593.67 574.41,590.32 576.25,586.94 578.12,583.51 580.01,580.03 581.93,576.51 583.89,572.93 585.87,569.31 587.88,565.63 589.93,561.9 592.01,558.12 594.12,554.28 596.27,550.38 598.45,546.42 600.68,542.4 602.94,538.32 605.24,534.17 607.58,529.95 609.97,525.66 612.4,521.3 614.87,516.87 617.39,512.35 619.96,507.76 622.59,503.08 625.26,498.32 628,493.46 630.78,488.52 633.63,483.47 636.54,478.33 639.52,473.08 642.56,467.72 645.68,462.25 648.86,456.65 652.13,450.94"/><polyline points="573.18,641.96 574.61,639.19 576.07,636.4 577.54,633.57 579.03,630.71 580.54,627.82 582.06,624.89 583.61,621.94 585.18,618.94 586.77,615.92 588.38,612.85 590.01,609.75 591.66,606.62 593.33,603.44 595.03,600.22 596.76,596.96 598.5,593.67 600.27,590.32 602.07,586.94 603.9,583.51 605.75,580.03 607.63,576.51 609.54,572.93 611.48,569.31 613.45,565.63 615.45,561.9 617.48,558.12 619.55,554.28 621.65,550.38 623.79,546.42 625.96,542.4 628.17,538.32 630.42,534.17 632.72,529.95 635.05,525.66 637.43,521.3 639.85,516.87 642.32,512.35 644.84,507.76 647.41,503.08 650.03,498.32 652.71,493.46 655.44,488.52 658.23,483.47 661.08,478.33 664,473.08 666.98,467.72 670.03,462.25 673.15,456.65 676.36,450.94"/><polyline points="600.23,641.96 601.63,639.19 603.04,636.4 604.48,633.57 605.93,630.71 607.4,627.82 608.89,624.89 610.4,621.94 611.93,618.94 613.47,615.92 615.04,612.85 616.63,609.75 618.25,606.62 619.88,603.44 621.54,600.22 623.22,596.96 624.92,593.67 626.65,590.32 628.41,586.94 630.19,583.51 632,580.03 633.83,576.51 635.7,572.93 637.59,569.31 639.51,565.63 641.47,561.9 643.45,558.12 645.47,554.28 647.52,550.38 649.61,546.42 651.74,542.4 653.9,538.32 656.1,534.17 658.34,529.95 660.62,525.66 662.95,521.3 665.32,516.87 667.73,512.35 670.2,507.76 672.71,503.08 675.27,498.32 677.89,493.46 680.57,488.52 683.3,483.47 686.09,478.33 688.94,473.08 691.86,467.72 694.85,462.25 697.91,456.65 701.04,450.94"/><polyline points="622.7,641.96 624.07,639.19 625.46,636.4 626.86,633.57 628.28,630.71 629.72,627.82 631.18,624.89 632.65,621.94 634.15,618.94 635.67,615.92 637.2,612.85 638.76,609.75 640.34,606.62 641.94,603.44 643.56,600.22 645.2,596.96 646.87,593.67 648.57,590.32 650.29,586.94 652.03,583.51 653.8,580.03 655.6,576.51 657.42,572.93 659.28,569.31 661.16,565.63 663.08,561.9 665.03,558.12 667,554.28 669.02,550.38 671.06,546.42 673.15,542.4 675.27,538.32 677.43,534.17 679.62,529.95 681.86,525.66 684.14,521.3 686.47,516.87 688.84,512.35 691.25,507.76 693.72,503.08 696.23,498.32 698.8,493.46 701.43,488.52 704.11,483.47 706.85,478.33 709.65,473.08 712.52,467.72 715.45,462.25 718.46,456.65 721.54,450.94"/><polyline points="645.5,641.96 646.83,639.19 648.19,636.4 649.56,633.57 650.95,630.71 652.35,627.82 653.78,624.89 655.22,621.94 656.68,618.94 658.16,615.92 659.66,612.85 661.19,609.75 662.73,606.62 664.29,603.44 665.88,600.22 667.49,596.96 669.12,593.67 670.78,590.32 672.46,586.94 674.17,583.51 675.9,580.03 677.66,576.51 679.45,572.93 681.26,569.31 683.11,565.63 684.98,561.9 686.89,558.12 688.83,554.28 690.8,550.38 692.8,546.42 694.84,542.4 696.92,538.32 699.04,534.17 701.19,529.95 703.38,525.66 705.62,521.3 707.9,516.87 710.22,512.35 712.59,507.76 715,503.08 717.47,498.32 719.99,493.46 722.56,488.52 725.19,483.47 727.88,478.33 730.63,473.08 733.45,467.72 736.33,462.25 739.27,456.65 742.3,450.94"/><polyline points="664.99,641.96 666.3,639.19 667.62,636.4 668.97,633.57 670.33,630.71 671.71,627.82 673.1,624.89 674.52,621.94 675.95,618.94 677.4,615.92 678.87,612.85 680.37,609.75 681.88,606.62 683.41,603.44 684.97,600.22 686.55,596.96 688.15,593.67 689.77,590.32 691.42,586.94 693.1,583.51 694.8,580.03 696.52,576.51 698.28,572.93 700.06,569.31 701.87,565.63 703.71,561.9 705.58,558.12 707.48,554.28 709.42,550.38 711.39,546.42 713.39,542.4 715.43,538.32 717.51,534.17 719.62,529.95 721.78,525.66 723.97,521.3 726.21,516.87 728.49,512.35 730.82,507.76 733.2,503.08 735.62,498.32 738.1,493.46 740.63,488.52 743.21,483.47 745.86,478.33 748.56,473.08 751.33,467.72 754.16,462.25 757.06,456.65 760.03,450.94"/></g><g><text transform="translate(223.08 439.84) rotate(-30) translate(-11.82 3.68) scale(1.2298 1)" font-size="13.56" font-weight="bold" fill="#1e90ff">0.1</text><text transform="translate(269.91 439.9) rotate(-30) translate(-11.82 3.68) scale(1.2275 1)" font-size="13.56" font-weight="bold" fill="#1e90ff">0.2</text><text transform="translate(319.89 439.76) rotate(-30) translate(-11.82 3.68) scale(1.2256 1)" font-size="13.56" font-weight="bold" fill="#1e90ff">0.4</text><text transform="translate(350.7 439.79) rotate(-30) translate(-11.83 3.68) scale(1.2485 1)" font-size="13.56" font-weight="bold" fill="#1e90ff">0.6</text><text transform="translate(391.31 443.64) rotate(-30) translate(-4.06 3.68) scale(1.0867 1)" font-size="13.56" font-weight="bold" fill="#1e90ff">1</text><text transform="translate(425.04 440.06) rotate(-30) translate(-11.33 3.68) scale(1.2026 1)" font-size="13.56" font-weight="bold" fill="#1e90ff">1.5</text><text transform="translate(449.82 443.58) rotate(-30) translate(-4.1 3.68) scale(1.0832 1)" font-size="13.56" font-weight="bold" fill="#1e90ff">2</text><text transform="translate(486.01 443.52) rotate(-30) translate(-4.08 3.68) scale(1.0859 1)" font-size="13.56" font-weight="bold" fill="#1e90ff">3</text><text transform="translate(512.61 443.33) rotate(-30) translate(-4.26 3.68) scale(1.1096 1)" font-size="13.56" font-weight="bold" fill="#1e90ff">4</text><text transform="translate(551.44 443.42) rotate(-30) translate(-4.4 3.68) scale(1.1805 1)" font-size="13.56" font-weight="bold" fill="#1e90ff">6</text><text transform="translate(579.98 443.44) rotate(-30) translate(-4.32 3.68) scale(1.1426 1)" font-size="13.56" font-weight="bold" fill="#1e90ff">8</text><text transform="translate(602.68 441.25) rotate(-30) translate(-8.79 3.68) scale(1.2006 1)" font-size="13.56" font-weight="bold" fill="#1e90ff">10</text><text transform="translate(630.02 441.36) rotate(-30) translate(-8.76 3.68) scale(1.1636 1)" font-size="13.56" font-weight="bold" fill="#1e90ff">13</text><text transform="translate(652.13 441.27) rotate(-30) translate(-8.78 3.68) scale(1.1888 1)" font-size="13.56" font-weight="bold" fill="#1e90ff">16</text><text transform="translate(676.36 441.14) rotate(-30) translate(-8.79 3.68) scale(1.2004 1)" font-size="13.56" font-weight="bold" fill="#1e90ff">20</text><text transform="translate(701.04 441.21) rotate(-30) translate(-8.77 3.68) scale(1.1649 1)" font-size="13.56" font-weight="bold" fill="#1e90ff">25</text><text transform="translate(721.54 441.1) rotate(-30) translate(-8.76 3.68) scale(1.1979 1)" font-size="13.56" font-weight="bold" fill="#1e90ff">30</text><text transform="translate(742.3 441.12) rotate(-30) translate(-8.75 3.68) scale(1.1866 1)" font-size="13.56" font-weight="bold" fill="#1e90ff">36</text><text transform="translate(760.03 441.15) rotate(-30) translate(-8.91 3.68) scale(1.1719 1)" font-size="13.56" font-weight="bold" fill="#1e90ff">42</text><text transform="translate(236.6 55.1) rotate(-45) translate(-16.61 3.68) scale(1.2287 1)" font-size="13.56" font-weight="bold" fill="#1f77b4">-100</text><text transform="translate(259.65 105.69) rotate(-45) translate(-11.97 3.68) scale(1.2280 1)" font-size="13.56" font-weight="bold" fill="#1f77b4">-90</text><text transform="translate(285.39 153.6) rotate(-45) translate(-11.97 3.68) scale(1.2280 1)" font-size="13.56" font-weight="bold" fill="#1f77b4">-80</text><text transform="translate(313.54 199.08) rotate(-45) translate(-11.97 3.68) scale(1.2280 1)" font-size="13.56" font-weight="bold" fill="#1f77b4">-70</text><text transform="translate(343.89 242.38) rotate(-45) translate(-11.97 3.68) scale(1.2280 1)" font-size="13.56" font-weight="bold" fill="#1f77b4">-60</text><text transform="translate(376.22 283.7) rotate(-45) translate(-11.97 3.68) scale(1.2280 1)" font-size="13.56" font-weight="bold" fill="#1f77b4">-50</text><text transform="translate(410.36 323.2) rotate(-45) translate(-11.97 3.68) scale(1.2280 1)" font-size="13.56" font-weight="bold" fill="#1f77b4">-40</text><text transform="translate(446.16 361.05) rotate(-45) translate(-11.97 3.68) scale(1.2280 1)" font-size="13.56" font-weight="bold" fill="#1f77b4">-30</text><text transform="translate(483.48 397.37) rotate(-45) translate(-11.97 3.68) scale(1.2280 1)" font-size="13.56" font-weight="bold" fill="#1f77b4">-20</text><text transform="translate(522.22 432.28) rotate(-45) translate(-11.97 3.68) scale(1.2280 1)" font-size="13.56" font-weight="bold" fill="#1f77b4">-10</text><text transform="translate(562.25 465.89) rotate(-45) translate(-4.65 3.68) scale(1.2392 1)" font-size="13.56" font-weight="bold" fill="#7f7f7f">0</text><text transform="translate(603.5 498.29) rotate(-45) translate(-8.79 3.68) scale(1.2006 1)" font-size="13.56" font-weight="bold" fill="#d62728">10</text><text transform="translate(645.86 529.56) rotate(-45) translate(-8.79 3.68) scale(1.2004 1)" font-size="13.56" font-weight="bold" fill="#d62728">20</text><text transform="translate(689.28 559.79) rotate(-45) translate(-8.76 3.68) scale(1.1979 1)" font-size="13.56" font-weight="bold" fill="#d62728">30</text><text transform="translate(733.68 589.04) rotate(-45) translate(-8.92 3.68) scale(1.2093 1)" font-size="13.56" font-weight="bold" fill="#d62728">40</text></g><polyline fill="none" stroke="#ff0000" stroke-width="2.5" stroke-linejoin="round" points="512.8,36.8 512.53,37.21 512.16,37.77 511.71,38.44 511.23,39.16 510.75,39.9 510.3,40.6 509.85,41.29 509.36,42 508.87,42.73 508.41,43.44 508.01,44.14 507.7,44.8 507.48,45.41 507.33,45.98 507.23,46.52 507.2,47.07 507.22,47.62 507.3,48.2 507.46,48.8 507.72,49.42 508.03,50.04 508.37,50.68 508.7,51.33 509,52 509.28,52.67 509.57,53.34 509.86,54.02 510.12,54.73 510.34,55.48 510.5,56.3 510.6,57.2 510.65,58.18 510.66,59.2 510.64,60.23 510.58,61.24 510.5,62.2 510.4,63.12 510.29,64.02 510.14,64.91 509.95,65.76 509.71,66.56 509.4,67.3 509.05,67.96 508.68,68.53 508.25,69.06 507.74,69.57 507.14,70.11 506.4,70.7 505.52,71.34 504.51,72.01 503.39,72.69 502.2,73.4 500.96,74.14 499.7,74.9 498.39,75.7 497,76.53 495.56,77.39 494.1,78.27 492.64,79.14 491.2,80 489.76,80.86 488.3,81.73 486.84,82.61 485.41,83.47 484.02,84.3 482.7,85.1 481.47,85.85 480.32,86.56 479.21,87.25 478.13,87.93 477.03,88.6 475.9,89.3 474.78,89.98 473.71,90.64 472.63,91.29 471.49,91.99 470.23,92.74 468.8,93.6 467.15,94.58 465.3,95.65 463.34,96.79 461.34,97.97 459.37,99.15 457.5,100.3 455.71,101.43 453.93,102.56 452.19,103.69 450.49,104.83 448.85,105.97 447.3,107.1 445.84,108.23 444.46,109.37 443.14,110.5 441.87,111.63 440.63,112.77 439.4,113.9 438.17,115.03 436.95,116.17 435.76,117.3 434.62,118.43 433.56,119.57 432.6,120.7 431.74,121.83 430.96,122.97 430.26,124.11 429.64,125.24 429.08,126.37 428.6,127.5 428.2,128.62 427.9,129.74 427.68,130.85 427.5,131.96 427.35,133.08 427.2,134.2 427.07,135.35 426.99,136.54 426.93,137.74 426.88,138.9 426.84,140 426.8,141 426.76,141.89 426.75,142.69 426.74,143.42 426.72,144.11 426.68,144.8 426.6,145.5 426.49,146.21 426.37,146.91 426.23,147.6 426.06,148.28 425.85,148.94 425.6,149.6 425.32,150.22 425.03,150.79 424.7,151.35 424.31,151.93 423.85,152.57 423.3,153.3 422.63,154.14 421.86,155.08 421.01,156.08 420.11,157.09 419.2,158.07 418.3,159 417.42,159.88 416.53,160.74 415.63,161.58 414.7,162.39 413.73,163.17 412.7,163.9 411.64,164.55 410.57,165.12 409.46,165.66 408.28,166.2 407,166.8 405.6,167.5 404.04,168.3 402.34,169.17 400.55,170.1 398.7,171.07 396.84,172.07 395,173.1 393.17,174.17 391.3,175.3 389.43,176.46 387.55,177.63 385.7,178.78 383.9,179.9 382.09,181.01 380.26,182.13 378.46,183.23 376.73,184.3 375.12,185.29 373.7,186.2 372.48,186.99 371.43,187.67 370.51,188.29 369.68,188.88 368.89,189.47 368.1,190.1 367.33,190.74 366.63,191.37 365.96,191.99 365.33,192.64 364.71,193.34 364.1,194.1 363.48,194.94 362.86,195.84 362.26,196.79 361.69,197.77 361.16,198.74 360.7,199.7 360.28,200.62 359.9,201.51 359.56,202.41 359.29,203.33 359.1,204.32 359,205.4 359.01,206.58 359.1,207.83 359.28,209.14 359.53,210.5 359.84,211.89 360.2,213.3 360.64,214.74 361.17,216.22 361.76,217.73 362.38,219.26 363,220.79 363.6,222.3 364.17,223.77 364.74,225.21 365.31,226.66 365.89,228.13 366.49,229.67 367.1,231.3 367.76,233.11 368.45,235.1 369.16,237.14 369.86,239.15 370.51,241 371.1,242.6 371.59,243.87 372.01,244.87 372.39,245.73 372.76,246.55 373.15,247.43 373.6,248.5 374.09,249.75 374.6,251.11 375.14,252.54 375.7,254 376.28,255.47 376.9,256.9 377.56,258.32 378.26,259.76 378.99,261.19 379.74,262.62 380.48,264.03 381.2,265.4 381.87,266.69 382.5,267.89 383.12,269.07 383.79,270.29 384.53,271.61 385.4,273.1 386.43,274.8 387.59,276.68 388.83,278.66 390.1,280.67 391.34,282.64 392.5,284.5 393.58,286.27 394.63,287.99 395.66,289.68 396.66,291.33 397.64,292.94 398.6,294.5 399.54,295.99 400.46,297.4 401.35,298.78 402.23,300.14 403.11,301.54 404,303 404.87,304.5 405.71,306 406.54,307.54 407.4,309.13 408.31,310.81 409.3,312.6 410.4,314.57 411.59,316.71 412.83,318.93 414.08,321.16 415.28,323.31 416.4,325.3 417.4,327.1 418.32,328.76 419.2,330.34 420.08,331.9 421,333.5 422,335.2 423.08,337 424.2,338.86 425.37,340.76 426.57,342.68 427.82,344.6 429.1,346.5 430.43,348.37 431.81,350.23 433.23,352.09 434.68,353.97 436.14,355.86 437.6,357.8 439.08,359.79 440.58,361.83 442.1,363.9 443.62,365.97 445.12,368.01 446.6,370 448.05,371.94 449.47,373.83 450.88,375.71 452.29,377.57 453.69,379.43 455.1,381.3 456.52,383.18 457.94,385.07 459.36,386.95 460.77,388.83 462.19,390.72 463.6,392.6 465,394.48 466.4,396.37 467.8,398.25 469.2,400.13 470.6,402.02 472,403.9 473.43,405.78 474.88,407.67 476.33,409.55 477.77,411.43 479.16,413.32 480.5,415.2 481.78,417.05 483.03,418.86 484.23,420.68 485.4,422.53 486.52,424.45 487.6,426.5 488.66,428.74 489.7,431.17 490.69,433.67 491.63,436.14 492.47,438.49 493.2,440.6 493.78,442.45 494.23,444.11 494.59,445.65 494.91,447.11 495.23,448.54 495.6,450 495.97,451.45 496.3,452.84 496.63,454.21 497,455.58 497.48,457 498.1,458.5 498.92,460.09 499.91,461.74 500.99,463.44 502.1,465.17 503.16,466.89 504.1,468.6 504.96,470.27 505.82,471.93 506.63,473.59 507.34,475.27 507.91,477 508.3,478.8 508.49,480.67 508.5,482.58 508.38,484.54 508.14,486.55 507.84,488.6 507.5,490.7 507.02,492.86 506.37,495.08 505.64,497.34 504.95,499.63 504.4,501.93 504.1,504.2 504.06,506.46 504.2,508.73 504.48,510.99 504.86,513.26 505.31,515.53 505.8,517.8 506.33,520.1 506.95,522.44 507.63,524.79 508.37,527.09 509.17,529.31 510,531.4 510.89,533.39 511.84,535.31 512.85,537.16 513.89,538.9 514.94,540.52 516,542 517.06,543.29 518.13,544.39 519.21,545.36 520.32,546.29 521.45,547.25 522.6,548.3 523.79,549.44 525,550.6 526.24,551.79 527.5,553.01 528.75,554.24 530,555.5 531.25,556.8 532.51,558.16 533.77,559.54 535.03,560.91 536.28,562.24 537.5,563.5 538.68,564.65 539.82,565.71 540.94,566.73 542.08,567.75 543.26,568.82 544.5,570 545.81,571.3 547.17,572.69 548.58,574.12 550,575.58 551.45,577.02 552.9,578.4 554.36,579.73 555.85,581.04 557.36,582.33 558.87,583.6 560.39,584.86 561.9,586.1 563.4,587.32 564.89,588.51 566.39,589.69 567.9,590.86 569.43,592.02 571,593.2 572.73,594.47 574.64,595.83 576.57,597.19 578.37,598.46 579.9,599.53 581,600.3"/><polyline fill="none" stroke="#008000" stroke-width="2.5" stroke-linejoin="round" points="388.4,36.9 387.64,37.55 386.58,38.46 385.33,39.53 383.99,40.69 382.64,41.84 381.4,42.9 380.23,43.89 379.06,44.87 377.88,45.86 376.72,46.84 375.59,47.82 374.5,48.8 373.45,49.78 372.43,50.76 371.43,51.74 370.46,52.73 369.52,53.71 368.6,54.7 367.69,55.7 366.79,56.7 365.91,57.7 365.08,58.7 364.3,59.7 363.6,60.7 362.98,61.69 362.44,62.67 361.96,63.66 361.52,64.64 361.11,65.62 360.7,66.6 360.32,67.57 359.99,68.53 359.68,69.48 359.37,70.45 359.05,71.45 358.7,72.5 358.32,73.6 357.94,74.76 357.54,75.94 357.13,77.13 356.68,78.33 356.2,79.5 355.67,80.67 355.1,81.84 354.51,83.02 353.9,84.18 353.29,85.31 352.7,86.4 352.13,87.46 351.56,88.49 350.99,89.5 350.42,90.47 349.86,91.41 349.3,92.3 348.75,93.09 348.22,93.78 347.69,94.42 347.15,95.1 346.59,95.87 346,96.8 345.35,97.92 344.63,99.18 343.9,100.54 343.19,101.94 342.54,103.34 342,104.7 341.56,106 341.18,107.29 340.86,108.58 340.61,109.89 340.42,111.22 340.3,112.6 340.25,114.01 340.29,115.43 340.39,116.89 340.53,118.39 340.71,119.95 340.9,121.6 341.14,123.38 341.45,125.28 341.79,127.25 342.12,129.22 342.4,131.12 342.6,132.9 342.7,134.53 342.73,136.07 342.71,137.54 342.66,138.98 342.62,140.42 342.6,141.9 342.57,143.44 342.52,145.01 342.46,146.59 342.44,148.14 342.47,149.62 342.6,151 342.82,152.25 343.1,153.41 343.45,154.49 343.85,155.55 344.3,156.61 344.8,157.7 345.37,158.85 346.01,160.02 346.71,161.2 347.43,162.36 348.14,163.46 348.8,164.5 349.43,165.46 350.04,166.36 350.65,167.22 351.24,168.04 351.83,168.83 352.4,169.6 352.94,170.28 353.44,170.86 353.94,171.4 354.44,172 354.99,172.74 355.6,173.7 356.29,174.92 357.06,176.34 357.86,177.91 358.67,179.54 359.46,181.2 360.2,182.8 360.97,184.4 361.82,186.05 362.65,187.71 363.37,189.35 363.88,190.93 364.1,192.4 363.94,193.77 363.44,195.06 362.75,196.29 361.98,197.47 361.25,198.6 360.7,199.7 360.28,200.72 359.9,201.64 359.56,202.51 359.29,203.4 359.1,204.34 359,205.4 359.01,206.58 359.1,207.83 359.28,209.14 359.53,210.5 359.84,211.89 360.2,213.3 360.64,214.74 361.17,216.22 361.76,217.73 362.38,219.26 363,220.79 363.6,222.3 364.17,223.77 364.74,225.22 365.32,226.66 365.9,228.14 366.49,229.67 367.1,231.3 367.74,233.05 368.42,234.91 369.11,236.83 369.78,238.76 370.42,240.67 371,242.5 371.51,244.25 371.97,245.94 372.39,247.61 372.79,249.28 373.19,250.97 373.6,252.7 374.03,254.54 374.47,256.49 374.91,258.46 375.33,260.37 375.73,262.15 376.1,263.7 376.46,264.98 376.84,266.04 377.19,266.97 377.49,267.83 377.7,268.72 377.8,269.7 377.78,270.76 377.65,271.84 377.44,272.94 377.16,274.07 376.84,275.22 376.5,276.4 376.13,277.62 375.7,278.87 375.24,280.14 374.73,281.44 374.18,282.76 373.6,284.1 372.95,285.48 372.24,286.91 371.48,288.36 370.72,289.79 369.98,291.18 369.3,292.5 368.65,293.7 368.01,294.8 367.4,295.86 366.83,296.92 366.32,298.05 365.9,299.3 365.53,300.68 365.19,302.14 364.91,303.66 364.73,305.23 364.68,306.82 364.8,308.4 365.1,310.01 365.58,311.66 366.18,313.34 366.88,315 367.63,316.63 368.4,318.2 369.24,319.68 370.2,321.08 371.21,322.44 372.21,323.81 373.17,325.22 374,326.7 374.74,328.27 375.43,329.9 376.06,331.56 376.62,333.25 377.1,334.93 377.5,336.6 377.76,338.25 377.89,339.9 377.93,341.55 377.96,343.2 378.03,344.85 378.2,346.5 378.45,348.2 378.72,349.96 379.04,351.72 379.41,353.42 379.86,355 380.4,356.4 381,357.56 381.65,358.53 382.37,359.38 383.2,360.18 384.16,361.03 385.3,362 386.64,363.1 388.18,364.28 389.85,365.5 391.61,366.73 393.41,367.94 395.2,369.1 397.02,370.22 398.91,371.31 400.85,372.39 402.79,373.45 404.68,374.49 406.5,375.5 408.29,376.5 410.11,377.49 411.88,378.46 413.56,379.39 415.08,380.27 416.4,381.1 417.47,381.81 418.34,382.39 419.06,382.93 419.68,383.49 420.24,384.16 420.8,385 421.38,386.04 421.94,387.23 422.46,388.51 422.88,389.86 423.17,391.24 423.3,392.6 423.2,393.97 422.89,395.37 422.45,396.8 421.97,398.24 421.52,399.68 421.2,401.1 420.92,402.5 420.6,403.9 420.32,405.3 420.16,406.7 420.2,408.1 420.5,409.5 421.07,410.92 421.84,412.35 422.81,413.79 423.97,415.21 425.3,416.62 426.8,418 428.55,419.35 430.56,420.68 432.74,421.99 435.02,423.28 437.3,424.55 439.5,425.8 441.66,427.01 443.87,428.17 446.08,429.31 448.25,430.46 450.34,431.65 452.3,432.9 454.16,434.21 455.95,435.56 457.66,436.94 459.26,438.36 460.75,439.81 462.1,441.3 463.31,442.87 464.39,444.52 465.36,446.21 466.21,447.88 466.95,449.5 467.6,451 468.18,452.39 468.7,453.69 469.11,454.93 469.38,456.13 469.45,457.32 469.3,458.5 468.98,459.68 468.54,460.85 467.91,462 467.03,463.13 465.81,464.23 464.2,465.3 462.05,466.32 459.38,467.3 456.39,468.25 453.25,469.2 450.16,470.18 447.3,471.2 444.55,472.27 441.73,473.37 438.96,474.49 436.34,475.64 433.99,476.81 432,478 430.34,479.24 428.9,480.54 427.72,481.86 426.84,483.16 426.29,484.42 426.1,485.6 426.29,486.67 426.84,487.66 427.73,488.6 428.9,489.53 430.34,490.48 432,491.5 434.05,492.57 436.53,493.67 439.28,494.79 442.1,495.94 444.84,497.11 447.3,498.3 449.57,499.51 451.8,500.74 453.94,501.99 455.93,503.27 457.7,504.57 459.2,505.9 460.38,507.21 461.28,508.48 461.97,509.77 462.51,511.16 462.96,512.68 463.4,514.4 463.76,516.35 463.99,518.5 464.12,520.78 464.24,523.16 464.38,525.58 464.6,528 464.96,530.53 465.41,533.25 465.9,536.01 466.34,538.67 466.66,541.12 466.8,543.2 466.73,544.82 466.51,546.07 466.18,547.09 465.76,548.04 465.29,549.06 464.8,550.3 464.21,551.81 463.47,553.49 462.68,555.24 461.93,556.97 461.31,558.58 460.9,560 460.71,561.18 460.67,562.2 460.76,563.11 460.96,563.96 461.24,564.8 461.6,565.7 462.08,566.63 462.7,567.54 463.42,568.46 464.16,569.38 464.88,570.32 465.5,571.3 466.07,572.33 466.64,573.4 467.19,574.5 467.67,575.6 468.05,576.67 468.3,577.7 468.41,578.68 468.4,579.62 468.3,580.54 468.12,581.46 467.88,582.37 467.6,583.3 467.25,584.25 466.81,585.22 466.31,586.19 465.79,587.16 465.27,588.1 464.8,589 464.34,589.85 463.86,590.64 463.39,591.41 462.96,592.19 462.59,593.01 462.3,593.9 462.12,594.95 462.03,596.16 461.99,597.41 462,598.59 462.01,599.59 462,600.3"/></g><rect x="90.5" y="36.5" width="663" height="606" fill="none" stroke="#000" stroke-width="1.33"/><g stroke="#000" stroke-width="1.33"><line x1="90.5" y1="642.5" x2="90.5" y2="648.33"/><line x1="164.5" y1="642.5" x2="164.5" y2="648.33"/><line x1="237.5" y1="642.5" x2="237.5" y2="648.33"/><line x1="311.5" y1="642.5" x2="311.5" y2="648.33"/><line x1="385.5" y1="642.5" x2="385.5" y2="648.33"/><line x1="458.5" y1="642.5" x2="458.5" y2="648.33"/><line x1="532.5" y1="642.5" x2="532.5" y2="648.33"/><line x1="606.5" y1="642.5" x2="606.5" y2="648.33"/><line x1="679.5" y1="642.5" x2="679.5" y2="648.33"/><line x1="753.5" y1="642.5" x2="753.5" y2="648.33"/><line x1="84.67" y1="36.5" x2="90.5" y2="36.5"/><line x1="84.67" y1="215.5" x2="90.5" y2="215.5"/><line x1="84.67" y1="319.5" x2="90.5" y2="319.5"/><line x1="84.67" y1="393.5" x2="90.5" y2="393.5"/><line x1="84.67" y1="451.5" x2="90.5" y2="451.5"/><line x1="84.67" y1="498.5" x2="90.5" y2="498.5"/><line x1="84.67" y1="537.5" x2="90.5" y2="537.5"/><line x1="84.67" y1="572.5" x2="90.5" y2="572.5"/><line x1="84.67" y1="602.5" x2="90.5" y2="602.5"/><line x1="84.67" y1="629.5" x2="90.5" y2="629.5"/></g><text transform="translate(74.06 668.2) scale(1.1128 1)" font-size="17.66" fill="#000">−40</text><text transform="translate(147.71 668.2) scale(1.1128 1)" font-size="17.66" fill="#000">−30</text><text transform="translate(221.35 668.2) scale(1.1128 1)" font-size="17.66" fill="#000">−20</text><text transform="translate(295 668.2) scale(1.1128 1)" font-size="17.66" fill="#000">−10</text><text transform="translate(380.6 668.2) scale(0.9122 1)" font-size="17.66" fill="#000">0</text><text transform="translate(448.96 668.2) scale(0.9977 1)" font-size="17.66" fill="#000">10</text><text transform="translate(522.44 668.2) scale(1.0065 1)" font-size="17.66" fill="#000">20</text><text transform="translate(596.36 668.2) scale(0.9921 1)" font-size="17.66" fill="#000">30</text><text transform="translate(669.81 668.2) scale(1.0022 1)" font-size="17.66" fill="#000">40</text><text transform="translate(743.63 668.2) scale(0.9931 1)" font-size="17.66" fill="#000">50</text><text transform="translate(47.79 43.91) scale(1.0270 1)" font-size="17.66" fill="#000">100</text><text transform="translate(47.64 222.37) scale(1.0322 1)" font-size="17.66" fill="#000">200</text><text transform="translate(47.91 326.77) scale(1.0227 1)" font-size="17.66" fill="#000">300</text><text transform="translate(47.73 400.84) scale(1.0290 1)" font-size="17.66" fill="#000">400</text><text transform="translate(47.89 458.29) scale(1.0234 1)" font-size="17.66" fill="#000">500</text><text transform="translate(47.57 505.23) scale(1.0347 1)" font-size="17.66" fill="#000">600</text><text transform="translate(47.77 544.92) scale(1.0275 1)" font-size="17.66" fill="#000">700</text><text transform="translate(47.68 579.3) scale(1.0306 1)" font-size="17.66" fill="#000">800</text><text transform="translate(47.52 609.62) scale(1.0362 1)" font-size="17.66" fill="#000">900</text><text transform="translate(37.16 636.75) scale(1.0413 1)" font-size="17.66" fill="#000">1000</text><text transform="translate(251.22 26.7) scale(1.0387 1)" font-size="21.19" fill="#000">wetPf2_C2E2.2026.059.23.22.G01</text><text transform="translate(349.5 692.9) scale(1.0620 1)" font-size="17.66" fill="#000">Temperature (°C)</text><g transform="translate(24.4 339.3) rotate(-90)"><text transform="translate(-59.6 0) scale(1.0023 1)" font-size="17.66" fill="#000">Pressure (hPa)</text></g></svg></body></html>
